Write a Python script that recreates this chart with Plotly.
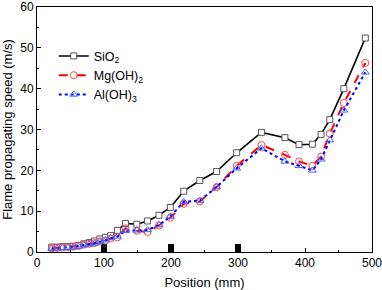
import plotly.graph_objects as go

position = [22, 30, 38, 46, 54, 62, 70, 78, 86, 94, 102, 110, 120, 132, 149, 165, 182, 199,
            219, 243, 268, 298, 335, 370, 391, 411, 424, 437, 458, 490]
sio2 = [1.2, 1.2, 1.3, 1.3, 1.4, 1.6, 2.0, 2.3, 2.7, 3.2, 3.6, 4.0, 5.3, 7.0, 6.8, 7.6, 9.0, 10.9,
        14.9, 17.5, 19.7, 24.3, 29.3, 28.0, 26.3, 26.4, 28.8, 32.4, 40.0, 52.4]
mgoh2 = [0.9, 1.0, 1.1, 1.2, 1.3, 1.5, 1.8, 2.0, 2.2, 2.6, 2.8, 3.3, 3.6, 5.8, 5.2, 4.9, 6.5, 8.4,
         11.8, 12.4, 15.9, 21.1, 26.2, 23.8, 22.2, 21.1, 23.4, 29.0, 36.5, 46.3]
aloh3 = [0.8, 0.9, 1.0, 1.1, 1.2, 1.4, 1.7, 1.9, 2.1, 2.5, 2.9, 3.4, 3.8, 5.2, 5.3, 5.4, 6.6, 8.7,
         12.3, 12.6, 15.9, 20.5, 25.4, 22.2, 21.1, 20.0, 22.7, 27.4, 34.7, 44.0]
sensor_pos = [100, 200, 300]
sensor_h = [1.9, 1.9, 1.9]

font = "Liberation Sans, Arial, sans-serif"
fig = go.Figure()

fig.add_trace(go.Bar(x=sensor_pos, y=sensor_h, width=8, marker=dict(color="black", line=dict(width=0)),
                     showlegend=False, hoverinfo="skip"))
fig.add_trace(go.Scatter(x=position, y=sio2, mode="lines+markers", name="SiO<sub>2</sub>",
                         line=dict(color="black", width=1.6),
                         marker=dict(symbol="square", size=6, color="white",
                                     line=dict(color="#555555", width=1))))
fig.add_trace(go.Scatter(x=position, y=mgoh2, mode="lines+markers", name="Mg(OH)<sub>2</sub>",
                         line=dict(color="#ff0000", width=2, dash="dash"),
                         marker=dict(symbol="circle", size=7, color="rgba(255,255,255,0)",
                                     line=dict(color="#ff4444", width=1))))
fig.add_trace(go.Scatter(x=position, y=aloh3, mode="lines+markers", name="Al(OH)<sub>3</sub>",
                         line=dict(color="#0000ff", width=2, dash="dot"),
                         marker=dict(symbol="triangle-up", size=7, color="rgba(255,255,255,0)",
                                     line=dict(color="#4466ff", width=1))))

axis_common = dict(showline=True, linecolor="black", linewidth=1, mirror=True, automargin=False,
                   ticks="inside", ticklen=4, tickcolor="black", showgrid=False, zeroline=False,
                   ticklabeloverflow="allow",
                   tickfont=dict(family=font, size=12, color="black"))
fig.update_xaxes(range=[0, 500], dtick=100,
                 minor=dict(ticks="inside", ticklen=2, dtick=50, tickcolor="black"),
                 title=dict(text="Position (mm)", font=dict(family=font, size=13, color="black")),
                 **axis_common)
fig.update_yaxes(range=[0, 60], dtick=10,
                 minor=dict(ticks="inside", ticklen=2, dtick=5, tickcolor="black"),
                 title=dict(text="Flame propagating speed (m/s)", font=dict(family=font, size=13, color="black")),
                 **axis_common)
fig.update_layout(width=382, height=290, margin=dict(l=37, r=10, t=7, b=38, autoexpand=False),
                  plot_bgcolor="white", paper_bgcolor="white", bargap=0,
                  legend=dict(x=0.05, y=0.86, xanchor="left", yanchor="top", bgcolor="rgba(0,0,0,0)",
                              font=dict(family=font, size=12.5, color="black"), tracegroupgap=0,
                              itemwidth=30),
                  font=dict(family=font))
fig.write_html("out.html", config={"displayModeBar": False},
               post_script="document.body.style.margin='0';document.body.style.padding='0';document.body.style.overflow='hidden';")
